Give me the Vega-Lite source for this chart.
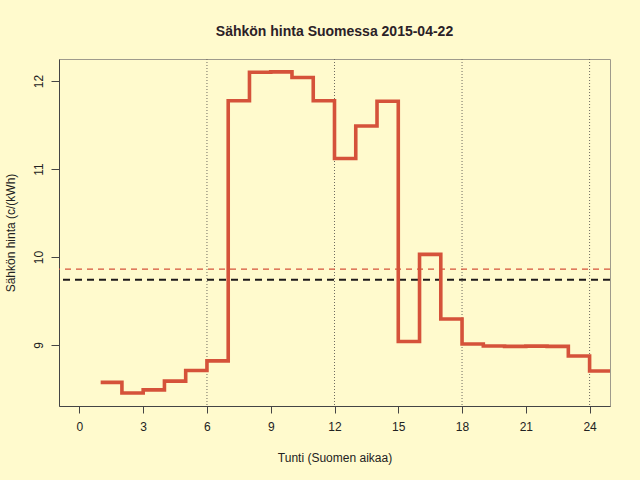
{
  "$schema": "https://vega.github.io/schema/vega-lite/v6.json",
  "width": 551,
  "height": 347,
  "autosize": "none",
  "padding": {"left": 59, "top": 59, "right": 30, "bottom": 74},
  "background": "#FFFACD",
  "config": {
    "view": {"stroke": "#9e9a8c", "strokeWidth": 1},
    "font": "Liberation Sans"
  },
  "title": {
    "text": "Sähkön hinta Suomessa 2015-04-22",
    "fontSize": 14,
    "fontWeight": "bold",
    "color": "#2b2127",
    "anchor": "middle",
    "offset": 20
  },
  "datasets": {
    "price": [
      {"hour": 1, "price": 8.576},
      {"hour": 2, "price": 8.455},
      {"hour": 3, "price": 8.49},
      {"hour": 4, "price": 8.59},
      {"hour": 5, "price": 8.71},
      {"hour": 6, "price": 8.82},
      {"hour": 7, "price": 11.776},
      {"hour": 8, "price": 12.1},
      {"hour": 9, "price": 12.105},
      {"hour": 10, "price": 12.04},
      {"hour": 11, "price": 11.776},
      {"hour": 12, "price": 11.12},
      {"hour": 13, "price": 11.49},
      {"hour": 14, "price": 11.77},
      {"hour": 15, "price": 9.04},
      {"hour": 16, "price": 10.03},
      {"hour": 17, "price": 9.295},
      {"hour": 18, "price": 9.011},
      {"hour": 19, "price": 8.989},
      {"hour": 20, "price": 8.985},
      {"hour": 21, "price": 8.987},
      {"hour": 22, "price": 8.985},
      {"hour": 23, "price": 8.875},
      {"hour": 24, "price": 8.705},
      {"hour": 25, "price": 8.705}
    ],
    "grid": [{"hour": 6}, {"hour": 12}, {"hour": 18}, {"hour": 24}],
    "mean": [{"price": 9.862}],
    "ref": [{"price": 9.742}]
  },
  "layer": [
    {
      "data": {"name": "grid"},
      "mark": {"type": "rule", "color": "#6e6a60", "strokeDash": [1, 2], "strokeWidth": 1},
      "encoding": {
        "x": {"field": "hour", "type": "quantitative", "scale": {"domain": [-0.96, 24.96], "nice": false, "zero": false}}
      }
    },
    {
      "data": {"name": "mean"},
      "mark": {"type": "rule", "color": "#D5523A", "strokeDash": [6, 5], "strokeWidth": 1.2},
      "encoding": {
        "y": {"field": "price", "type": "quantitative", "scale": {"domain": [8.307, 12.251], "nice": false, "zero": false}}
      }
    },
    {
      "data": {"name": "ref"},
      "mark": {"type": "rule", "color": "#1e1a1a", "strokeDash": [7, 5], "strokeWidth": 2},
      "encoding": {
        "y": {"field": "price", "type": "quantitative", "scale": {"domain": [8.307, 12.251], "nice": false, "zero": false}}
      }
    },
    {
      "data": {"name": "price"},
      "mark": {"type": "line", "interpolate": "step-after", "color": "#D5523A", "strokeWidth": 3.6, "clip": true},
      "encoding": {
        "x": {
          "field": "hour",
          "type": "quantitative",
          "scale": {"domain": [-0.96, 24.96], "nice": false, "zero": false},
          "axis": {
            "values": [0, 3, 6, 9, 12, 15, 18, 21, 24],
            "format": "d",
            "title": "Tunti (Suomen aikaa)",
            "grid": false,
            "domain": true,
            "domainColor": "#444",
            "tickSize": 7,
            "tickColor": "#444",
            "labelPadding": 8,
            "labelFontSize": 12,
            "labelColor": "#222",
            "labelFlush": false,
            "titleFontSize": 12,
            "titleFontWeight": "normal",
            "titleColor": "#222",
            "titleY": 51,
            "titleBaseline": "middle"
          }
        },
        "y": {
          "field": "price",
          "type": "quantitative",
          "scale": {"domain": [8.307, 12.251], "nice": false, "zero": false},
          "axis": {
            "values": [9, 10, 11, 12],
            "format": "d",
            "title": "Sähkön hinta (c/(kWh)",
            "grid": false,
            "domain": true,
            "domainColor": "#444",
            "tickSize": 8,
            "tickColor": "#444",
            "labelAngle": -90,
            "labelAlign": "center",
            "labelBaseline": "alphabetic",
            "labelPadding": 9,
            "labelFontSize": 12,
            "labelColor": "#222",
            "labelFlush": false,
            "titleFontSize": 12,
            "titleFontWeight": "normal",
            "titleColor": "#222",
            "titleX": -45,
            "titleBaseline": "alphabetic",
            "titleAlign": "center"
          }
        }
      }
    }
  ]
}
